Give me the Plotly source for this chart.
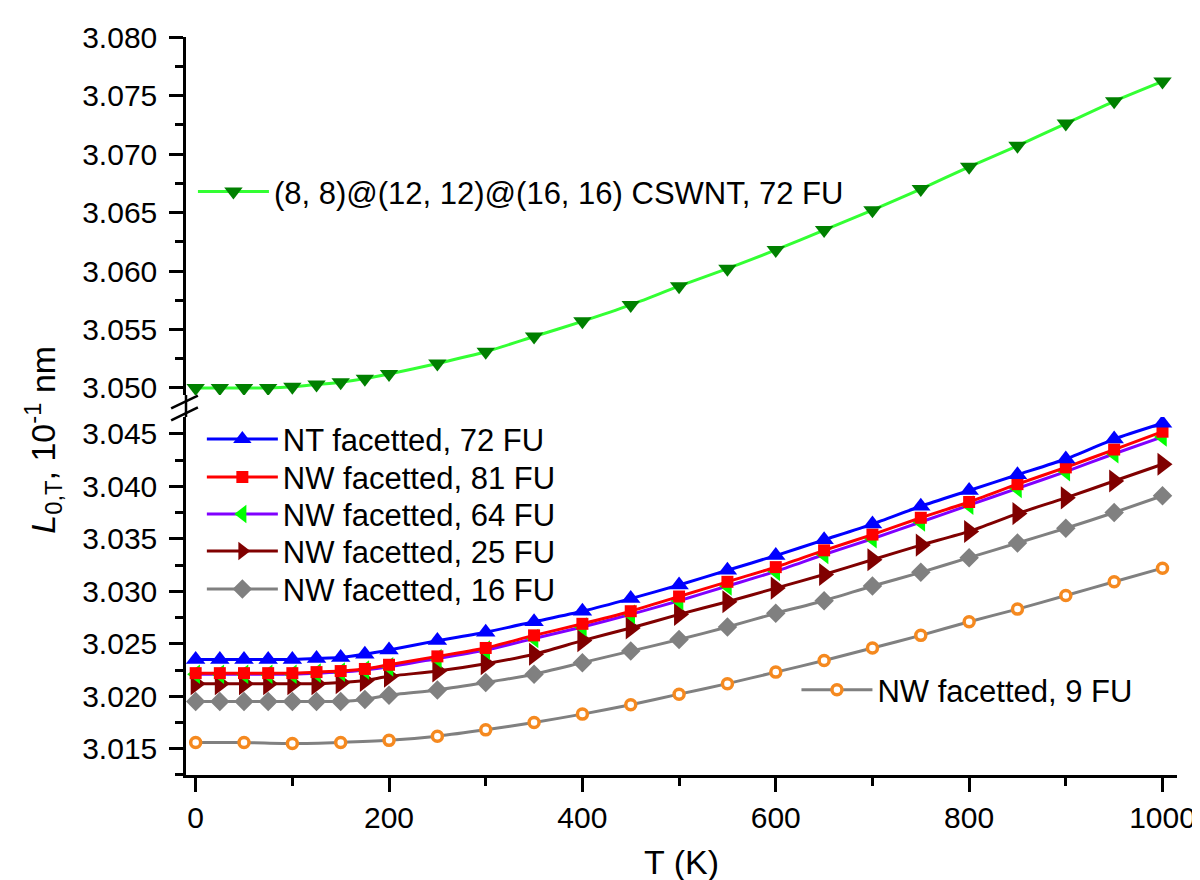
import plotly.graph_objects as go

# ---------------- data ----------------
T = [0, 25, 50, 75, 100, 125, 150, 175, 200, 250, 300, 350, 400, 450, 500,
     550, 600, 650, 700, 750, 800, 850, 900, 950, 1000]
T9 = [0, 50, 100, 150, 200, 250, 300, 350, 400, 450, 500, 550, 600, 650,
      700, 750, 800, 850, 900, 950, 1000]

cswnt_72 = [3.0500, 3.0500, 3.0500, 3.0500, 3.0501, 3.0503, 3.0505, 3.0508,
            3.0512, 3.0521, 3.0531, 3.0544, 3.0557, 3.0571, 3.0587, 3.0602,
            3.0618, 3.0635, 3.0652, 3.0670, 3.0689, 3.0707, 3.0726, 3.0745,
            3.0762]
nt_72 = [3.0235, 3.0235, 3.0235, 3.0235, 3.0235, 3.0236, 3.0237, 3.0240,
         3.0244, 3.0253, 3.0261, 3.0271, 3.0281, 3.0293, 3.0306, 3.0320,
         3.0334, 3.0349, 3.0364, 3.0381, 3.0396, 3.0411, 3.0426, 3.0445,
         3.0460]
nw_81 = [3.0222, 3.0222, 3.0222, 3.0222, 3.0222, 3.0223, 3.0224, 3.0226,
         3.0230, 3.0238, 3.0246, 3.0258, 3.0269, 3.0281, 3.0295, 3.0309,
         3.0323, 3.0339, 3.0354, 3.0370, 3.0385, 3.0402, 3.0418, 3.0435,
         3.0452]
nw_64 = [3.0221, 3.0221, 3.0221, 3.0221, 3.0221, 3.0222, 3.0223, 3.0225,
         3.0228, 3.0236, 3.0244, 3.0255, 3.0266, 3.0278, 3.0291, 3.0305,
         3.0319, 3.0335, 3.0350, 3.0366, 3.0382, 3.0398, 3.0414, 3.0431,
         3.0447]
nw_25 = [3.0212, 3.0212, 3.0212, 3.0212, 3.0212, 3.0212, 3.0213, 3.0215,
         3.0219, 3.0224, 3.0231, 3.0240, 3.0253, 3.0265, 3.0278, 3.0290,
         3.0303, 3.0316, 3.0330, 3.0344, 3.0357, 3.0374, 3.0389, 3.0405,
         3.0421]
nw_16 = [3.0195, 3.0195, 3.0195, 3.0195, 3.0195, 3.0195, 3.0195, 3.0197,
         3.0201, 3.0206, 3.0213, 3.0221, 3.0232, 3.0243, 3.0254, 3.0266,
         3.0279, 3.0291, 3.0305, 3.0318, 3.0332, 3.0346, 3.0360, 3.0375,
         3.0391]
nw_9 = [3.0156, 3.0156, 3.0155, 3.0156, 3.0158, 3.0162, 3.0168, 3.0175,
        3.0183, 3.0192, 3.0202, 3.0212, 3.0223, 3.0234, 3.0246, 3.0258,
        3.0271, 3.0283, 3.0296, 3.0309, 3.0322]

x_ticks = [0, 200, 400, 600, 800, 1000]
y_ticks_low = [3.015, 3.020, 3.025, 3.030, 3.035, 3.040, 3.045]
y_ticks_up = [3.050, 3.055, 3.060, 3.065, 3.070, 3.075, 3.080]

FONT = "Liberation Sans, Arial, sans-serif"
FS = 30
LFS = 31

L, R, TOP, BOT = 178, 22, 29, 112
W, H = 1200, 880
PW, PH = W - L - R, H - TOP - BOT
lowtop = 358.5 / PH
upbot = 1 - 358.5 / PH


def px_x(p):
    return (p - L) / PW


def px_y(p):
    return (TOP + PH - p) / PH


fig = go.Figure()

# legend id -> (line start x px, centre y px)
legend_pos = {
    "legend": (195, 184),
    "legend2": (204, 432),
    "legend3": (204, 470),
    "legend4": (204, 507),
    "legend5": (204, 544),
    "legend6": (204, 582),
    "legend7": (804, 683),
}


def add(x, y, name, lcolor, symbol, mcolor, size, yaxis, legend,
        mline=None, mfill=None):
    marker = dict(symbol=symbol, size=size, color=mfill if mfill else mcolor,
                  line=dict(width=mline if mline else 0, color=mcolor))
    fig.add_trace(go.Scatter(
        x=x, y=y, name=name, mode="lines+markers",
        line=dict(color=lcolor, width=3, shape="spline", smoothing=0.6),
        marker=marker, yaxis=yaxis, legend=legend))


add(T9, nw_9, "NW facetted, 9 FU", "#808080", "circle", "#F5891F", 10,
    "y", "legend7", mline=3.5, mfill="white")
add(T, nw_16, "NW facetted, 16 FU", "#808080", "diamond", "#808080", 15,
    "y", "legend6")
add(T, nw_25, "NW facetted, 25 FU", "#800000", "triangle-right", "#800000", 20,
    "y", "legend5")
add(T, nw_64, "NW facetted, 64 FU", "#8000FF", "triangle-left", "#00FF00", 17,
    "y", "legend4")
add(T, nw_81, "NW facetted, 81 FU", "#FF0000", "square", "#FF0000", 12,
    "y", "legend3")
add(T, nt_72, "NT facetted, 72 FU", "#0000FF", "triangle-up", "#0000FF", 17,
    "y", "legend2")
add(T, cswnt_72, "(8, 8)@(12, 12)@(16, 16) CSWNT, 72 FU", "#33FF33",
    "triangle-down", "#008000", 16, "y2", "legend")

base = dict(showline=True, linewidth=2.5, linecolor="black",
            ticks="outside", ticklen=14, tickwidth=2.5,
            tickcolor="black", showgrid=False, zeroline=False,
            tickfont=dict(family=FONT, size=FS, color="black"))


def minor(dtick, tick0):
    return dict(ticks="outside", ticklen=8, tickwidth=2.5, tickcolor="black",
                dtick=dtick, tick0=tick0)


layout = dict(
    width=W, height=H,
    margin=dict(l=L, r=R, t=TOP, b=BOT),
    paper_bgcolor="white", plot_bgcolor="white",
    font=dict(family=FONT, size=FS, color="black"),
    showlegend=True,
    xaxis=dict(range=[-10, 1015], tickvals=x_ticks,
               ticktext=[str(v) for v in x_ticks], **base,
               minor=minor(100, 0),
               title=dict(text="T (K)", font=dict(family=FONT, size=34),
                          standoff=18),
               anchor="y"),
    yaxis=dict(domain=[0, lowtop], range=[3.0125, 3.0466],
               tickvals=y_ticks_low,
               ticktext=["%.3f" % v for v in y_ticks_low], **base,
               minor=minor(0.0025, 3.0125), ticklabelstandoff=6, anchor="x"),
    yaxis2=dict(domain=[upbot, 1], range=[3.0494, 3.080],
                tickvals=y_ticks_up,
                ticktext=["%.3f" % v for v in y_ticks_up], **base,
                minor=minor(0.0025, 3.0125), ticklabelstandoff=6, anchor="x"),
)
for lid, (lx, ly) in legend_pos.items():
    layout[lid] = dict(x=px_x(lx - 10), y=px_y(ly), xanchor="left",
                       yanchor="middle", bgcolor="rgba(0,0,0,0)",
                       itemwidth=71, font=dict(family=FONT, size=LFS))
fig.update_layout(**layout)

# continuous left axis line across the break and the break marks
fig.add_shape(type="line", xref="paper", yref="paper", x0=0, x1=0,
              y0=lowtop, y1=upbot, line=dict(color="black", width=2.5))
for dy in (0, 12):
    fig.add_shape(type="line", xref="paper", yref="paper",
                  x0=px_x(163), x1=px_x(190),
                  y0=px_y(401 + dy), y1=px_y(388 + dy),
                  line=dict(color="black", width=2.5))

fig.add_annotation(
    text="<i>L</i><sub>0,T</sub>, 10<sup>-1</sup> nm", textangle=-90,
    xref="paper", yref="paper", x=px_x(34), y=px_y(432),
    xanchor="center", yanchor="middle", showarrow=False,
    font=dict(family=FONT, size=34, color="black"))

fig.write_html("out.html")
